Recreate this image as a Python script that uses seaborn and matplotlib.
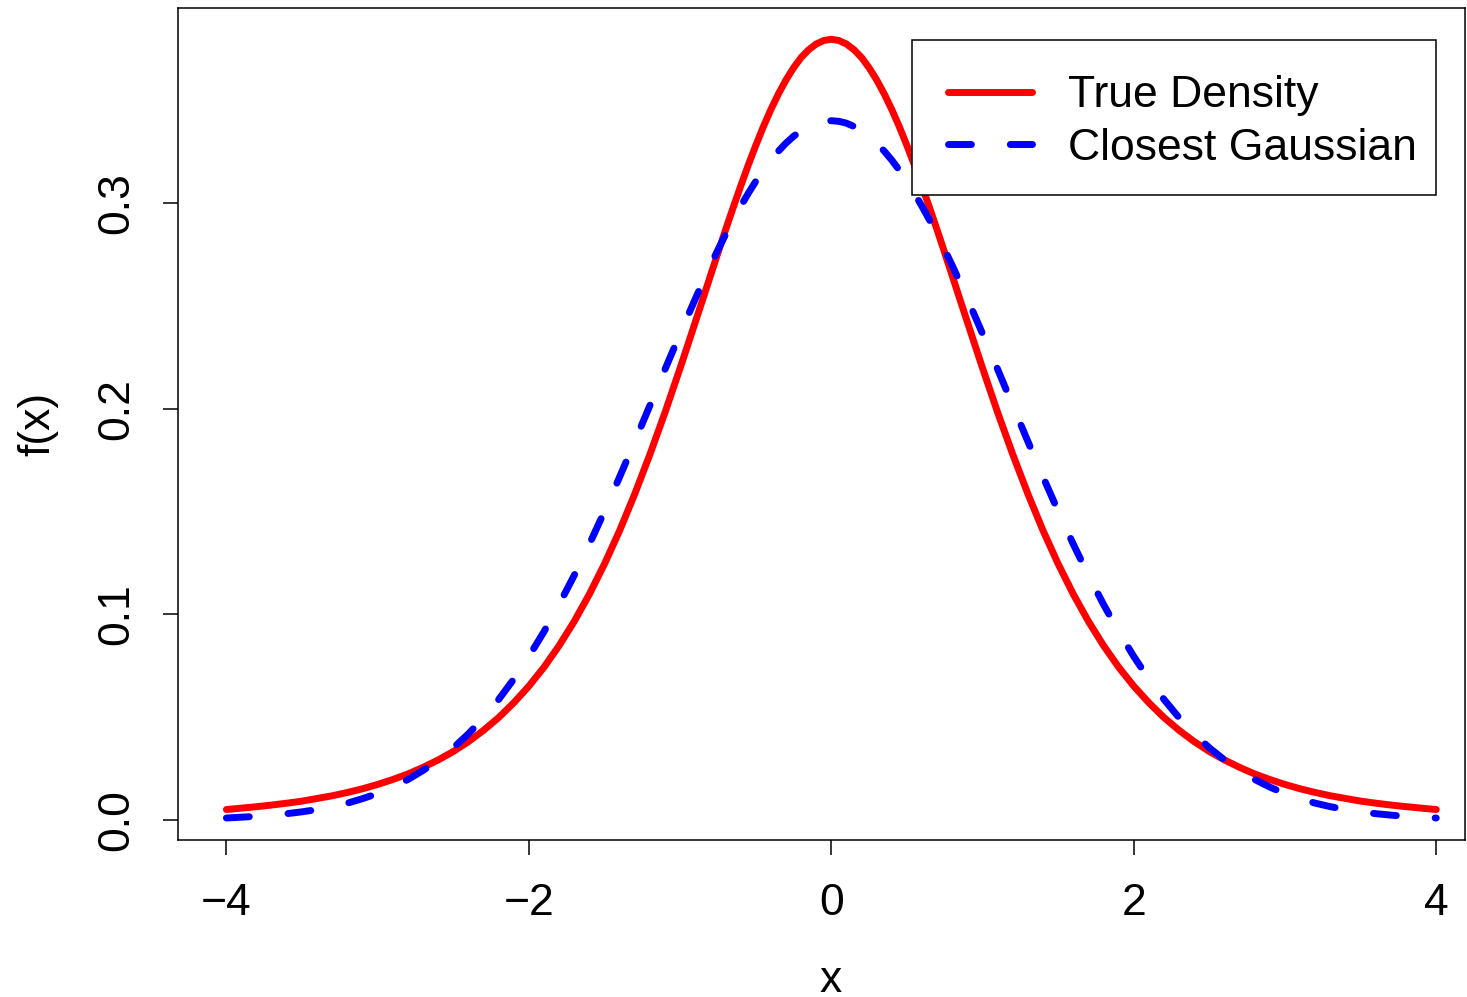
import numpy as np
import pandas as pd
import matplotlib
matplotlib.use("Agg")
import matplotlib.pyplot as plt
from matplotlib.patches import Rectangle
import seaborn as sns

# ---- data ----
x_vals = [-4.0, -3.9, -3.8, -3.7, -3.6, -3.5, -3.4, -3.3, -3.2, -3.1,
          -3.0, -2.9, -2.8, -2.7, -2.6, -2.5, -2.4, -2.3, -2.2, -2.1,
          -2.0, -1.9, -1.8, -1.7, -1.6, -1.5, -1.4, -1.3, -1.2, -1.1,
          -1.0, -0.95, -0.9, -0.85, -0.8, -0.75, -0.7, -0.65, -0.6, -0.55,
          -0.5, -0.45, -0.4, -0.35, -0.3, -0.25, -0.2, -0.15, -0.1, -0.05,
          0.0,
          0.05, 0.1, 0.15, 0.2, 0.25, 0.3, 0.35, 0.4, 0.45, 0.5,
          0.55, 0.6, 0.65, 0.7, 0.75, 0.8, 0.85, 0.9, 0.95, 1.0,
          1.1, 1.2, 1.3, 1.4, 1.5, 1.6, 1.7, 1.8, 1.9, 2.0,
          2.1, 2.2, 2.3, 2.4, 2.5, 2.6, 2.7, 2.8, 2.9, 3.0,
          3.1, 3.2, 3.3, 3.4, 3.5, 3.6, 3.7, 3.8, 3.9, 4.0]

true_density = [0.0051, 0.0058, 0.0065, 0.0073, 0.0082, 0.0092, 0.0105, 0.0118, 0.0134, 0.0152,
                0.0173, 0.0197, 0.0224, 0.0256, 0.0292, 0.0333, 0.0381, 0.0436, 0.0498, 0.0570,
                0.0651, 0.0743, 0.0848, 0.0966, 0.1098, 0.1245, 0.1407, 0.1585, 0.1777, 0.1981,
                0.2197, 0.2308, 0.2420, 0.2532, 0.2645, 0.2757, 0.2868, 0.2976, 0.3081, 0.3183,
                0.3279, 0.3370, 0.3454, 0.3530, 0.3598, 0.3657, 0.3707, 0.3745, 0.3773, 0.3790,
                0.3796,
                0.3790, 0.3773, 0.3745, 0.3707, 0.3657, 0.3598, 0.3530, 0.3454, 0.3370, 0.3279,
                0.3183, 0.3081, 0.2976, 0.2868, 0.2757, 0.2645, 0.2532, 0.2420, 0.2308, 0.2197,
                0.1981, 0.1777, 0.1585, 0.1407, 0.1245, 0.1098, 0.0966, 0.0848, 0.0743, 0.0651,
                0.0570, 0.0498, 0.0436, 0.0381, 0.0333, 0.0292, 0.0256, 0.0224, 0.0197, 0.0173,
                0.0152, 0.0134, 0.0118, 0.0105, 0.0092, 0.0082, 0.0073, 0.0065, 0.0058, 0.0051]

closest_gaussian = [0.0010, 0.0014, 0.0018, 0.0024, 0.0031, 0.0040, 0.0051, 0.0065, 0.0082, 0.0104,
                    0.0129, 0.0160, 0.0197, 0.0241, 0.0292, 0.0351, 0.0419, 0.0497, 0.0586, 0.0685,
                    0.0795, 0.0916, 0.1048, 0.1190, 0.1341, 0.1501, 0.1668, 0.1840, 0.2015, 0.2191,
                    0.2364, 0.2449, 0.2533, 0.2615, 0.2695, 0.2772, 0.2846, 0.2916, 0.2983, 0.3046,
                    0.3105, 0.3159, 0.3208, 0.3252, 0.3291, 0.3324, 0.3351, 0.3372, 0.3388, 0.3397,
                    0.3400,
                    0.3397, 0.3388, 0.3372, 0.3351, 0.3324, 0.3291, 0.3252, 0.3208, 0.3159, 0.3105,
                    0.3046, 0.2983, 0.2916, 0.2846, 0.2772, 0.2695, 0.2615, 0.2533, 0.2449, 0.2364,
                    0.2191, 0.2015, 0.1840, 0.1668, 0.1501, 0.1341, 0.1190, 0.1048, 0.0916, 0.0795,
                    0.0685, 0.0586, 0.0497, 0.0419, 0.0351, 0.0292, 0.0241, 0.0197, 0.0160, 0.0129,
                    0.0104, 0.0082, 0.0065, 0.0051, 0.0040, 0.0031, 0.0024, 0.0018, 0.0014, 0.0010]

x_ticks = [-4, -2, 0, 2, 4]
y_ticks = [0.0, 0.1, 0.2, 0.3]
y_tick_labels = ["0.0", "0.1", "0.2", "0.3"]
series_labels = ["True Density", "Closest Gaussian"]

df = pd.DataFrame({"x": x_vals, "true": true_density, "gauss": closest_gaussian})

# ---- style ----
sns.set_theme(style="ticks")
plt.rcParams["font.family"] = ["Liberation Sans", "DejaVu Sans"]
plt.rcParams["axes.unicode_minus"] = True
plt.rcParams["text.color"] = "black"
plt.rcParams["axes.labelcolor"] = "black"

FS = 32
LW = 5.0
W, H = 1467, 997

fig = plt.figure(figsize=(W / 100, H / 100), dpi=100)
ax_l, ax_r, ax_t, ax_b = 178, 1465, 8, 840
ax = fig.add_axes([ax_l / W, 1 - ax_b / H, (ax_r - ax_l) / W, (ax_b - ax_t) / H])

def ax_frac(px, py):
    return ((px - ax_l) / (ax_r - ax_l), (ax_b - py) / (ax_b - ax_t))

sns.lineplot(data=df, x="x", y="true", ax=ax, color="#FF0000", linewidth=LW,
             solid_capstyle="round", solid_joinstyle="round",
             label=series_labels[0], sort=False)
sns.lineplot(data=df, x="x", y="gauss", ax=ax, color="#0000FF", linewidth=LW,
             linestyle=(0, (3.3, 5.6)), dash_capstyle="round", dash_joinstyle="round",
             label=series_labels[1], sort=False)

ax.set_xlim(-4.32, 4.19)
ax.set_ylim(-0.0097, 0.3948)

ax.set_xticks(x_ticks)
ax.set_xticklabels(["\u2212" + str(abs(t)) if t < 0 else str(t) for t in x_ticks])
ax.set_yticks(y_ticks)
ax.set_yticklabels(y_tick_labels, rotation=90, va="center")

ax.tick_params(axis="both", direction="out", length=10.8, width=1.1,
               labelsize=FS, colors="black")
ax.tick_params(axis="x", pad=20)
ax.tick_params(axis="y", pad=18.5)

for s in ax.spines.values():
    s.set_visible(True)
    s.set_linewidth(1.1)
    s.set_color("black")

ax.set_xlabel("x", fontsize=FS, labelpad=26)
ax.set_ylabel("f(x)", fontsize=FS, labelpad=27)
ax.xaxis.label.set_x(ax_frac(831, 0)[0])

# legend: entries without frame, frame drawn as a box in R style
leg = ax.legend(loc="center left", bbox_to_anchor=ax_frac(948, 122),
                fontsize=FS, frameon=False, handlelength=1.9,
                handletextpad=0.8, borderpad=0.0, labelspacing=0.26,
                borderaxespad=0.0)
for t in leg.get_texts():
    t.set_color("black")

x0, y1 = ax_frac(912, 40)
x1, y0 = ax_frac(1436, 195)
ax.add_patch(Rectangle((x0, y0), x1 - x0, y1 - y0, transform=ax.transAxes,
                       facecolor="white", edgecolor="black", linewidth=1.1,
                       zorder=4))
leg.set_zorder(5)

fig.savefig("out.png", dpi=100)
